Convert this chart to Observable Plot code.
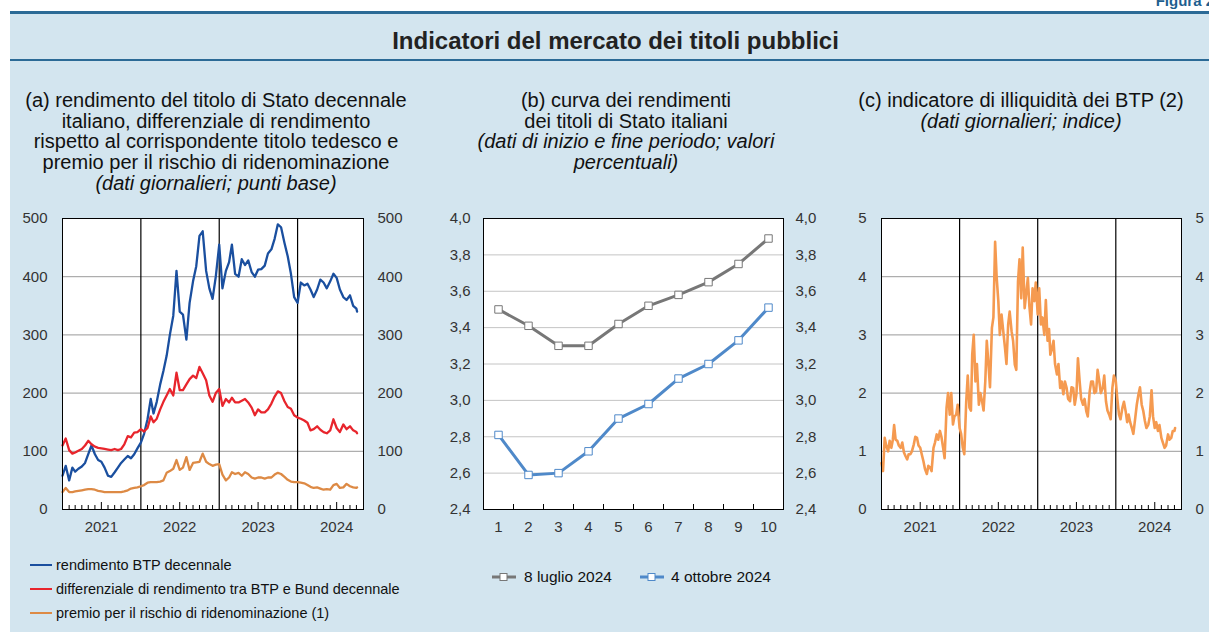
<!DOCTYPE html>
<html><head><meta charset="utf-8">
<script src="https://cdn.jsdelivr.net/npm/d3@7"></script>
<script src="https://cdn.jsdelivr.net/npm/@observablehq/plot@0.6"></script>
<style>
body{margin:0;width:1209px;height:632px;overflow:hidden;background:#fff;font-family:"Liberation Sans",Arial,sans-serif;position:relative}
#bg{position:absolute;left:10px;top:12px;width:1199px;height:620px;background:#d3e5ef}
#topline{position:absolute;left:10px;top:11px;width:1199px;height:3px;background:#2b6a96}
#midline{position:absolute;left:10px;top:59px;width:1199px;height:2px;background:#2b6a96}
#fig{position:absolute;right:-5px;top:-8px;font-weight:bold;font-size:15px;color:#1f5f8f}
#title{position:absolute;left:16px;width:1199px;top:27px;text-align:center;font-weight:bold;font-size:24px;color:#222}
.ptitle{position:absolute;text-align:center;font-size:20px;line-height:20.7px;color:#111;top:90px}
.chart{position:absolute;top:205px}
.leg{position:absolute;font-size:14.5px;color:#111;display:flex;align-items:center;white-space:nowrap}
.legb{font-size:15.5px}
.sw{display:inline-block;width:22px;height:2px;margin-right:4px}
</style></head>
<body>
<div id="bg"></div><div id="topline"></div><div id="midline"></div>
<div id="fig">Figura 2</div>
<div id="title">Indicatori del mercato dei titoli pubblici</div>
<div class="ptitle" style="left:6px;width:420px">(a) rendimento del titolo di Stato decennale<br>italiano, differenziale di rendimento<br>rispetto al corrispondente titolo tedesco e<br>premio per il rischio di ridenominazione<br><i>(dati giornalieri; punti base)</i></div>
<div class="ptitle" style="left:426px;width:400px">(b) curva dei rendimenti<br>dei titoli di Stato italiani<br><i>(dati di inizio e fine periodo; valori<br>percentuali)</i></div>
<div class="ptitle" style="left:821px;width:400px">(c) indicatore di illiquidità dei BTP (2)<br><i>(dati giornalieri; indice)</i></div>
<div id="ca" class="chart" style="left:10px"></div>
<div id="cb" class="chart" style="left:430px"></div>
<div id="cc" class="chart" style="left:830px"></div>
<div class="leg" style="left:30px;top:557px"><span class="sw" style="background:#1a4f9f"></span>rendimento BTP decennale</div>
<div class="leg" style="left:30px;top:581px"><span class="sw" style="background:#e8252c"></span>differenziale di rendimento tra BTP e Bund decennale</div>
<div class="leg" style="left:30px;top:605px"><span class="sw" style="background:#dd8a45"></span>premio per il rischio di ridenominazione (1)</div>
<div class="leg legb" style="left:492px;top:568px"><svg width="24" height="10" style="margin-right:8px"><line x1="0" y1="5" x2="24" y2="5" stroke="#777" stroke-width="3"/><rect x="8" y="1.5" width="7" height="7" fill="#fff" stroke="#777"/></svg>8 luglio 2024</div>
<div class="leg legb" style="left:640px;top:568px"><svg width="24" height="10" style="margin-right:7px"><line x1="0" y1="5" x2="24" y2="5" stroke="#4f89c9" stroke-width="3"/><rect x="8" y="1.5" width="7" height="7" fill="#fff" stroke="#4f89c9"/></svg>4 ottobre 2024</div>
<script>
// ---------- Panel (a): semi-monthly samples (1st and 16th), bp ----------
const btpYield = [
 58,75,50,72,65,70,74,80,95,110,95,85,82,72,58,56,64,72,80,86,92,88,95,105,
 115,130,155,190,165,185,215,238,264,300,333,410,340,335,292,355,392,418,470,478,410,380,362,400,
 455,380,410,425,455,405,400,430,420,428,408,400,412,413,419,440,447,465,490,485,458,435,405,365,
 355,390,385,388,378,365,378,395,390,380,392,405,398,378,365,360,368,350,345,340];
const btpBundSpread = [
 110,122,102,96,98,101,104,110,118,112,108,106,105,104,103,102,104,102,104,112,126,124,132,133,
 138,134,140,160,150,156,172,185,196,207,196,235,205,205,215,224,230,226,245,234,222,196,185,200,
 207,178,190,184,192,184,184,187,190,184,175,162,172,167,167,172,182,194,203,200,186,176,173,162,
 158,156,153,149,136,138,143,137,133,131,136,155,140,133,146,138,143,136,133,131];
const redenomPremium = [
 30,37,30,30,31,32,33,34,35,35,34,32,31,30,30,30,30,30,30,31,33,36,37,38,
 40,42,46,47,47,47,48,50,63,66,70,85,68,72,90,68,80,81,82,96,82,78,75,77,
 78,60,50,55,64,61,63,58,64,61,55,53,55,55,53,55,55,60,63,61,56,51,48,47,
 47,46,45,42,39,37,38,36,34,35,34,42,44,37,38,44,40,38,37,38];
// ---------- Panel (b) ----------
const maturities = [1,2,3,4,5,6,7,8,9,10];
const curveJul = [3.50,3.41,3.30,3.30,3.42,3.52,3.58,3.65,3.75,3.89];
const curveOct = [2.81,2.59,2.60,2.72,2.90,2.98,3.12,3.20,3.33,3.51];
const seriesB = ["8 luglio 2024","4 ottobre 2024"];
// ---------- Panel (c): weekly samples (1st, 8th, 16th, 23rd) ----------
const illiquidity = [
 0.8,0.66,1.23,1.1, 1.0,1.18,1.06,1.2, 1.45,1.2,1.18,1.1, 1.06,1.15,0.98,0.92, 0.86,0.95,0.95,1.0, 1.12,1.25,1.23,1.1,
 1.06,0.95,0.83,0.7, 0.61,0.75,0.72,0.66, 1.06,1.15,1.29,1.2, 1.35,1.25,1.06,0.88, 1.75,2.0,1.63,2.0, 1.46,1.6,1.63,1.8,
 1.4,1.3,1.06,0.95, 1.86,2.3,1.75,1.7, 2.66,3.0,2.2,2.5, 1.8,2.0,1.86,1.7, 2.2,2.9,2.49,2.1, 3.12,3.3,4.6,4.0,
 3.58,3.0,3.35,3.1, 2.78,2.5,3.18,3.4, 3.06,2.9,2.49,2.4, 3.92,4.3,3.63,4.5, 3.46,3.7,3.98,3.5, 3.18,3.8,3.58,3.9,
 3.35,3.8,3.18,3.3, 3.0,3.6,2.9,3.1, 2.66,2.75,2.9,2.5, 2.32,2.5,2.09,2.2, 1.98,2.2,2.09,1.9, 1.86,2.1,2.09,1.8,
 1.98,2.6,2.2,1.9, 1.8,1.9,1.69,1.6, 2.03,2.2,2.2,2.0, 2.03,2.4,2.2,2.0, 2.09,2.3,1.86,1.7, 1.63,1.55,2.09,2.3,
 2.2,1.9,1.63,1.55, 1.75,1.85,1.69,1.5, 1.63,1.5,1.4,1.3, 1.58,1.8,1.98,2.1, 1.8,1.7,1.52,1.4, 1.46,1.6,2.05,1.6,
 1.4,1.5,1.35,1.45, 1.23,1.15,1.06,1.1, 1.29,1.2,1.23,1.35, 1.35,1.4];
const yearLabels = ["2021","2022","2023","2024"];
const ticksA = [0,100,200,300,400,500];
const ticksB = [2.4,2.6,2.8,3.0,3.2,3.4,3.6,3.8,4.0];
const ticksC = [0,1,2,3,4,5];

// sample dates
function grid(days){
  const out=[];
  for(let y=2021;y<=2024;y++) for(let m=0;m<12;m++){
    if(y===2024&&m>8) break;
    for(const d of days) out.push(new Date(Date.UTC(y,m,d)));
  }
  out.push(new Date(Date.UTC(2024,9,1)), new Date(Date.UTC(2024,9,4)));
  return out;
}
const halfMonth = grid([1,16]);
const weekly = grid([1,8,16,23]);

const xDomain = [new Date(Date.UTC(2021,0,1)), new Date(Date.UTC(2024,10,3))];
const yearStarts = [2022,2023,2024].map(y=>new Date(Date.UTC(y,0,1)));
const yearMids = yearLabels.map(y=>new Date(Date.UTC(+y,6,1)));
const monthTicks = [];
for(let y=2021;y<=2024;y++) for(let m=1;m<12;m++){ if(m===6) continue; if(y===2024&&m>9) break; monthTicks.push(new Date(Date.UTC(y,m,1))); }

const FH = 291; // frame height in px
const style = {background:"transparent", fontFamily:"'Liberation Sans', Arial, sans-serif", fontSize:"15px", color:"#333", overflow:"visible"};

function timePanel(series, yDomain, yTicks, gridVals, width, mL, mR, sw){
  return Plot.plot({
    width, height:335, marginTop:13, marginBottom:31, marginLeft:mL, marginRight:mR,
    style,
    x:{type:"utc", domain:xDomain},
    y:{domain:yDomain},
    marks:[
      Plot.frame({fill:"white", stroke:"none"}),
      Plot.gridY(gridVals,{stroke:"#9a9a9a", strokeOpacity:1}),
      Plot.ruleX(yearStarts,{stroke:"#000", strokeWidth:1.2}),
      Plot.tickX(monthTicks,{x:d=>d, insetTop:FH-4, stroke:"#000"}),
      Plot.tickX(yearMids,{x:d=>d, insetTop:FH-7, stroke:"#000"}),
      ...series.map(s=>Plot.line(s.data,{x:"date", y:"v", stroke:s.color, strokeWidth:sw})),
      Plot.frame({stroke:"#000"}),
      Plot.axisY(yTicks,{anchor:"left", tickSize:0, tickPadding:15, label:null, tickFormat:d=>String(d)}),
      Plot.axisY(yTicks,{anchor:"right", tickSize:0, tickPadding:14, label:null, tickFormat:d=>String(d)}),
      Plot.axisX(yearMids,{anchor:"bottom", tickSize:0, tickPadding:12, label:null, tickFormat:(d,i)=>yearLabels[i]})
    ]
  });
}

const mk = (dates, vals)=>vals.map((v,i)=>({date:dates[i], v}));
document.getElementById("ca").append(timePanel([
  {data:mk(halfMonth,btpYield), color:"#1a4f9f"},
  {data:mk(halfMonth,btpBundSpread), color:"#e8252c"},
  {data:mk(halfMonth,redenomPremium), color:"#dd8a45"}
],[0,500],ticksA,[100,200,300,400],410,52,57,2.3));

document.getElementById("cc").append(timePanel([
  {data:mk(weekly,illiquidity), color:"#f59a50"}
],[0,5],ticksC,[1,2,3,4],379,51,28,2.6));

// Panel b
const dataB = [
  ...maturities.map((m,i)=>({m, v:curveJul[i], s:seriesB[0]})),
  ...maturities.map((m,i)=>({m, v:curveOct[i], s:seriesB[1]}))
];
const colB = {[seriesB[0]]:"#777777",[seriesB[1]]:"#4f89c9"};
const fmtB = d=>d.toFixed(1).replace(".",",");
document.getElementById("cb").append(Plot.plot({
  width:400, height:335, marginTop:13, marginBottom:31, marginLeft:53, marginRight:47,
  style,
  x:{domain:[0.5,10.5]},
  y:{domain:[2.4,4.0]},
  marks:[
    Plot.frame({fill:"white", stroke:"none"}),
    Plot.gridY(ticksB.slice(1,-1),{stroke:"#c4c4c4", strokeOpacity:1}),
    Plot.tickX(maturities.slice(0,-1).map(m=>m+0.5),{x:d=>d, insetTop:FH-5, stroke:"#000"}),
    ...seriesB.map(s=>Plot.line(dataB.filter(d=>d.s===s),{x:"m", y:"v", stroke:colB[s], strokeWidth:3})),
    ...seriesB.map(s=>Plot.dot(dataB.filter(d=>d.s===s),{x:"m", y:"v", symbol:"square", r:4.2, fill:"white", stroke:colB[s], strokeWidth:1})),
    Plot.frame({stroke:"#000"}),
    Plot.axisY(ticksB,{anchor:"left", tickSize:0, tickPadding:13, label:null, tickFormat:fmtB}),
    Plot.axisY(ticksB,{anchor:"right", tickSize:0, tickPadding:12, label:null, tickFormat:fmtB}),
    Plot.axisX(maturities,{anchor:"bottom", tickSize:0, tickPadding:12, label:null})
  ]
}));
</script>
</body></html>
